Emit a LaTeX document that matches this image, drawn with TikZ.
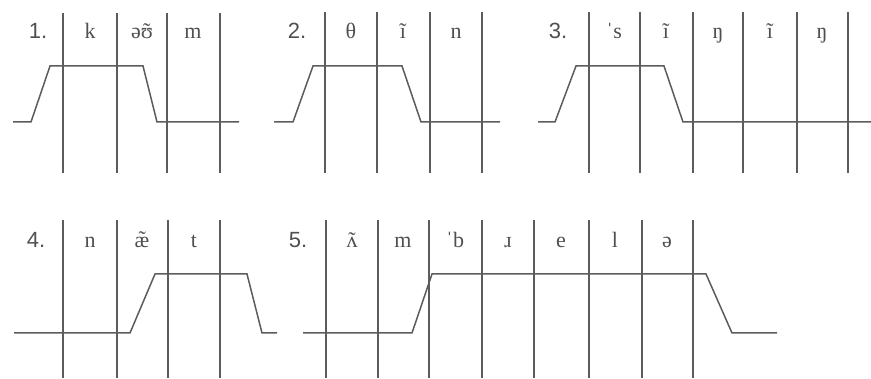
\documentclass[tikz,border=0pt]{standalone}
\usepackage{fontspec}
\setmainfont{Liberation Serif}
\newfontfamily\numfont{Liberation Sans}
\usetikzlibrary{positioning}
\definecolor{linegray}{HTML}{5C5C5C}
\definecolor{textgray}{HTML}{505050}
% tilde set over a letter
\newcommand{\nasal}[1]{\ooalign{#1\cr\hidewidth\char"02DC\hidewidth\cr}}

\begin{document}
\begin{tikzpicture}[
    x=1pt, y=-1pt,
    seg/.style={draw=linegray, line width=1.3pt},
    trace/.style={draw=linegray, line width=1.5pt, line join=miter},
    num/.style={font=\numfont\fontsize{22}{24}\selectfont, text=textgray, anchor=base, inner sep=0pt},
    ph/.style={font=\fontsize{22}{24}\selectfont, text=textgray, anchor=base, inner sep=0pt},
]
\useasboundingbox (0,0) rectangle (871,379);
% === TOP ROW ===
% 1. comb
\node[num] (n1) at (38,39) {1.};
\foreach \x in {63,117,167,220} {
    \draw[seg] (\x,13) -- (\x,173);
}
\foreach \x/\t [count=\i] in {90/k, 142/{ə\nasal{ʊ}}, 193/m} {
    \node[ph] (p1\i) at (\x,39) {\t};
}
\draw[trace] (13,122) -- (31,122) -- (50,66) -- (143,66) -- (157,122) -- (239,122);
% 2. thin
\node[num] (n2) at (297,39) {2.};
\foreach \x in {325,377,430,482} {
    \draw[seg] (\x,12) -- (\x,173);
}
\foreach \x/\t [count=\i] in {351/θ, 403/ĩ, 456/n} {
    \node[ph] (p2\i) at (\x,39) {\t};
}
\draw[trace] (274,122) -- (293,122) -- (313,66) -- (402,66) -- (421,122) -- (500,122);
% 3. singing
\node[num] (n3) at (558,39) {3.};
\foreach \x in {589,640,693,743,797,848} {
    \draw[seg] (\x,12) -- (\x,173);
}
\foreach \x/\t [count=\i] in {614/ˈs, 666/ĩ, 718/ŋ, 770/ĩ, 822/ŋ} {
    \node[ph] (p3\i) at (\x,39) {\t};
}
\draw[trace] (538,122) -- (555,122) -- (576,66) -- (664,66) -- (683,122) -- (871,122);
% === BOTTOM ROW ===
% 4. gnat
\node[num] (n4) at (36,248) {4.};
\foreach \x in {63,117,168,220} {
    \draw[seg] (\x,220) -- (\x,378);
}
\foreach \x/\t [count=\i] in {90/n, 142/æ̃, 194/t} {
    \node[ph] (p4\i) at (\x,248) {\t};
}
\draw[trace] (14,333) -- (130,333) -- (155,274) -- (247,274) -- (262,333) -- (277,333);
% 5. umbrella
\node[num] (n5) at (298,248) {5.};
\foreach \x in {326,378,429,482,534,589,642,693} {
    \draw[seg] (\x,220) -- (\x,378);
}
\foreach \x/\t [count=\i] in {352/{\nasal{ʌ}}, 403/m, 455/ˈb, 508/ɹ, 561/e, 615/l, 667/ə} {
    \node[ph] (p5\i) at (\x,248) {\t};
}
\draw[trace] (303,333) -- (412,333) -- (432,274) -- (706,274) -- (732,333) -- (777,333);
\end{tikzpicture}
\end{document}
